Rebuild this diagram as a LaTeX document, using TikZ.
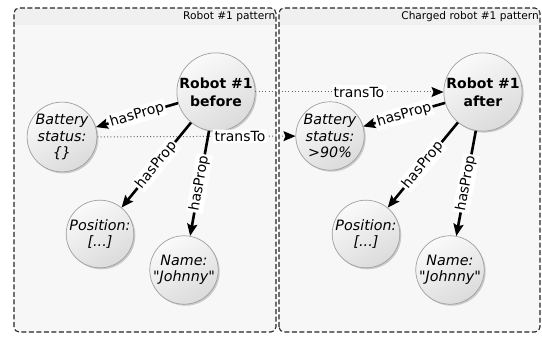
\documentclass[tikz,border=0pt]{standalone}
\usepackage{fontspec}
\setmainfont{DejaVu Sans}[Ligatures=TeXOff]
\usetikzlibrary{arrows.meta,shadows}
\begin{document}
\begin{tikzpicture}[x=1pt,y=1pt,
  panelbody/.style={fill=gray!6},
  panelhead/.style={fill=gray!12},
  panelframe/.style={draw=black!85, dash pattern=on 5pt off 2.5pt, line width=1.1pt, rounded corners=5pt},
  ptitle/.style={font=\fontsize{10.6}{12}\selectfont, anchor=east, inner sep=1pt},
  ent/.style={circle, draw=gray!75, line width=0.7pt, minimum size=64pt, inner sep=0pt,
    align=center, top color=gray!4, bottom color=gray!28, shading angle=30,
    drop shadow={shadow xshift=1.5pt, shadow yshift=-1.5pt, opacity=0.18, fill=black},
    font=\fontsize{14.3}{16.5}\selectfont\itshape},
  robot/.style={ent, minimum size=68pt, font=\fontsize{14}{18}\selectfont\bfseries},
  prop/.style={-{Stealth[length=12pt,width=10pt,inset=2pt]}, line width=2.6pt},
  trans/.style={-{Stealth[length=12pt,width=10pt,inset=2pt,color=black]}, draw=black!60,
    line width=1pt, dash pattern=on 1pt off 2.3pt},
  lbl/.style={fill=white, inner sep=1.6pt, font=\fontsize{14}{16}\selectfont, sloped}
]
\useasboundingbox (0,0) rectangle (542,338);

% left pattern panel
\begin{scope}
  \clip[rounded corners=5pt] (14,6) rectangle (276,330);
  \fill[panelbody] (14,6) rectangle (276,330);
  \fill[panelhead] (14,313) rectangle (276,330);
\end{scope}
\draw[panelframe] (14,6) rectangle (276,330);
\node[ptitle] (t1) at (276.5,321) {Robot \#1 pattern};

% right pattern panel
\begin{scope}
  \clip[rounded corners=5pt] (279,6) rectangle (540,330);
  \fill[panelbody] (279,6) rectangle (540,330);
  \fill[panelhead] (279,313) rectangle (540,330);
\end{scope}
\draw[panelframe] (279,6) rectangle (540,330);
\node[ptitle] (t2) at (540,321) {Charged robot \#1 pattern};

% entities before charging
\node[robot] (rb) at (216,246) {Robot \#1\\before};
\node[ent, minimum size=61pt] (bb) at (62,201) {Battery\\status:\\\{\}};
\node[ent] (pb) at (100,104) {Position:\\{[}...{]}};
\node[ent] (nb) at (184,68) {Name:\\"Johnny"};

% entities after charging
\node[robot] (ra) at (483,246) {Robot \#1\\after};
\node[ent] (ba) at (330,202) {Battery\\status:\\>90\%};
\node[ent] (pa) at (366,104) {Position:\\{[}...{]}};
\node[ent] (na) at (450,68) {Name:\\"Johnny"};

% transitions
\draw[trans] (rb) -- node[lbl, pos=0.55] {transTo} (ra);
\draw[trans] (bb) -- node[lbl, pos=0.72] {transTo} (ba);

% properties
\draw[prop] (rb) -- node[lbl] {hasProp} (bb);
\draw[prop] (rb) -- node[lbl] {hasProp} (pb);
\draw[prop] (rb) -- node[lbl] {hasProp} (nb);
\draw[prop] (ra) -- node[lbl] {hasProp} (ba);
\draw[prop] (ra) -- node[lbl] {hasProp} (pa);
\draw[prop] (ra) -- node[lbl] {hasProp} (na);
\end{tikzpicture}
\end{document}
